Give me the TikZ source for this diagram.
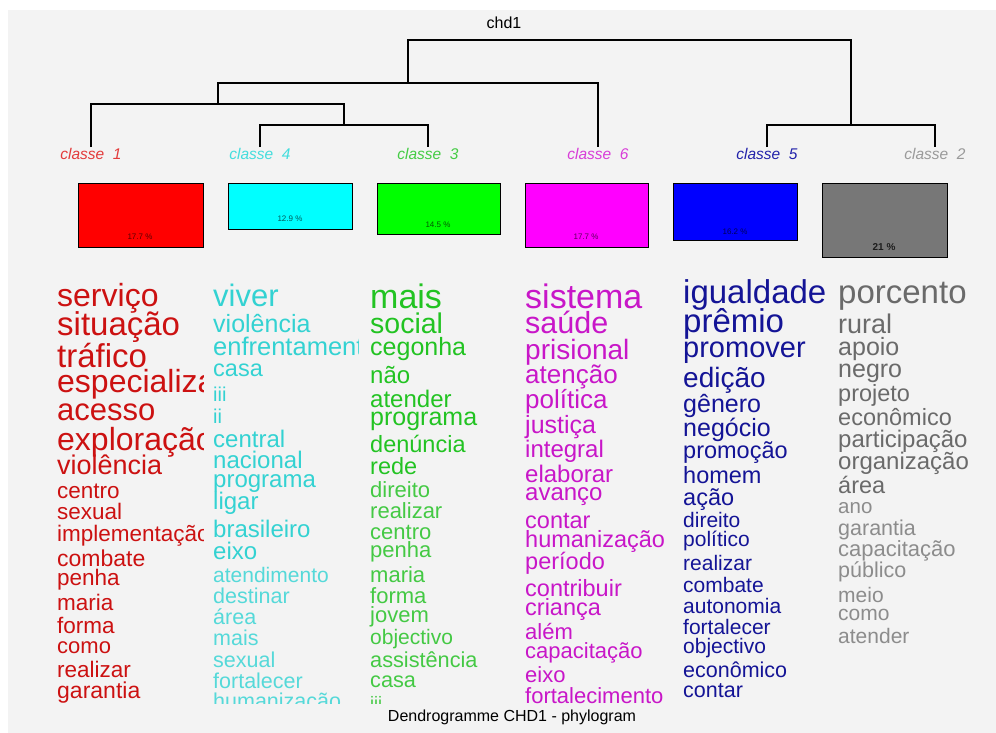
\documentclass[tikz,border=0pt]{standalone}
\usepackage{fontspec}
\setmainfont{Liberation Sans}
\usepackage{tikz}
\newcommand{\fsz}[1]{\fontsize{#1}{#1}\selectfont}
\definecolor{bgc}{HTML}{F3F3F3}
\definecolor{lred}{HTML}{E33B3B}
\definecolor{lcyan}{HTML}{44DDDD}
\definecolor{lgreen}{HTML}{44CC44}
\definecolor{lmag}{HTML}{D83CD8}
\definecolor{lblue}{HTML}{2222AA}
\definecolor{lgray}{HTML}{9A9A9A}
\definecolor{fred}{HTML}{FF0000}
\definecolor{fcyan}{HTML}{00FFFF}
\definecolor{fgreen}{HTML}{00FF00}
\definecolor{fmag}{HTML}{FF00FF}
\definecolor{fblue}{HTML}{0000FF}
\definecolor{fgray}{HTML}{777777}
\definecolor{wred}{HTML}{CC1111}
\definecolor{wcyan}{HTML}{33D2D2}
\definecolor{wcyan2}{HTML}{55D9D9}
\definecolor{wgreen}{HTML}{22C322}
\definecolor{wgreen2}{HTML}{44C944}
\definecolor{wmag}{HTML}{C816C8}
\definecolor{wblue}{HTML}{141496}
\definecolor{wgray}{HTML}{6A6A6A}
\definecolor{wgray2}{HTML}{8C8C8C}

\begin{document}
\begin{tikzpicture}[x=1pt,y=-1pt]%
	\tikzstyle{leaf}=[font=\fsz{15.5}\itshape, inner sep=1pt];
	\tikzstyle{branch}=[draw=black, line width=1.5pt];
	\tikzstyle{classbox}=[rectangle, draw=black, line width=1.4pt, anchor=north west, inner sep=0pt];
	\tikzstyle{pct}=[font=\fsz{8}, text=black, text opacity=0.65, inner sep=0pt];
	\tikzstyle{word}=[anchor=base west, inner sep=0pt];
	\useasboundingbox (0,0) rectangle (996,733);
	\fill[bgc] (8,10) rectangle (996,733);
	% dendrogram
	\node (ttl) at (504,23) [font=\fsz{16}] {chd1};
	\node[text=lred] (cl1) at (91,154) [leaf] {classe\ \ 1};
	\node[text=lcyan] (cl4) at (260,154) [leaf] {classe\ \ 4};
	\node[text=lgreen] (cl3) at (428,154) [leaf] {classe\ \ 3};
	\node[text=lmag] (cl6) at (598,154) [leaf] {classe\ \ 6};
	\node[text=lblue] (cl5) at (767,154) [leaf] {classe\ \ 5};
	\node[text=lgray] (cl2) at (935,154) [leaf] {classe\ \ 2};
	\coordinate (j43) at (344,125);
	\coordinate (j143) at (218,104);
	\coordinate (j6) at (408,83);
	\coordinate (j52) at (851,125);
	\coordinate (top) at (630,40);
	\draw[branch] (cl4.north) |- (j43) -| (cl3.north);
	\draw[branch] (cl1.north) |- (j143) -| (j43);
	\draw[branch] (j143) |- (j6) -| (cl6.north);
	\draw[branch] (cl5.north) |- (j52) -| (cl2.north);
	\draw[branch] (j6) |- (top) -| (j52);
	% class sizes
	\node[fill=fred, minimum width=125pt, minimum height=64pt] (bx1) at (78,183) [classbox] {};
	\node[fill=fcyan, minimum width=124pt, minimum height=46pt] (bx4) at (228,183) [classbox] {};
	\node[fill=fgreen, minimum width=123pt, minimum height=51pt] (bx3) at (377,183) [classbox] {};
	\node[fill=fmag, minimum width=123pt, minimum height=64pt] (bx6) at (525,183) [classbox] {};
	\node[fill=fblue, minimum width=124pt, minimum height=57pt] (bx5) at (673,183) [classbox] {};
	\node[fill=fgray, minimum width=125pt, minimum height=74pt] (bx2) at (822,183) [classbox] {};
	\node (pc1) at (140,237) [pct] {17.7 \%};
	\node (pc4) at (290,219) [pct] {12.9 \%};
	\node (pc3) at (438,225) [pct] {14.5 \%};
	\node (pc6) at (586,237) [pct] {17.7 \%};
	\node (pc5) at (735,232) [pct] {16.2 \%};
	\node (pc2) at (884,247) [pct, font=\fsz{10}\bfseries, text opacity=0.75] {21 \%};
	% classe 1
	\begin{scope}
	\clip (54,275) rectangle (203,703);
	\node[text=wred, font=\fsz{32}] (r1) at (57,306) [word] {serviço};
	\node[text=wred, font=\fsz{33}] (r2) at (57,335) [word] {situação};
	\node[text=wred, font=\fsz{33}] (r3) at (57,367) [word] {tráfico};
	\node[text=wred, font=\fsz{32}] (r4) at (57,392) [word] {especialização};
	\node[text=wred, font=\fsz{31}] (r5) at (57,420) [word] {acesso};
	\node[text=wred, font=\fsz{32}] (r6) at (57,450) [word] {exploração};
	\node[text=wred, font=\fsz{27}] (r7) at (57,474) [word] {violência};
	\node[text=wred, font=\fsz{22.5}] (r8) at (57,498) [word] {centro};
	\node[text=wred, font=\fsz{22.5}] (r9) at (57,519) [word] {sexual};
	\node[text=wred, font=\fsz{22.5}] (r10) at (57,541) [word] {implementação};
	\node[text=wred, font=\fsz{23}] (r11) at (57,566) [word] {combate};
	\node[text=wred, font=\fsz{22.5}] (r12) at (57,585) [word] {penha};
	\node[text=wred, font=\fsz{22.5}] (r13) at (57,610) [word] {maria};
	\node[text=wred, font=\fsz{22.5}] (r14) at (57,633) [word] {forma};
	\node[text=wred, font=\fsz{22}] (r15) at (57,653) [word] {como};
	\node[text=wred, font=\fsz{22.5}] (r16) at (57,677) [word] {realizar};
	\node[text=wred, font=\fsz{23}] (r17) at (57,698) [word] {garantia};
	\end{scope}
	% classe 4
	\begin{scope}
	\clip (210,275) rectangle (358,703);
	\node[text=wcyan, font=\fsz{31}] (c1) at (213,306) [word] {viver};
	\node[text=wcyan, font=\fsz{25}] (c2) at (213,332) [word] {violência};
	\node[text=wcyan, font=\fsz{25.5}] (c3) at (213,355) [word] {enfrentamento};
	\node[text=wcyan, font=\fsz{23.5}] (c4) at (213,376) [word] {casa};
	\node[text=wcyan, font=\fsz{20}] (c5) at (213,401) [word] {iii};
	\node[text=wcyan, font=\fsz{20}] (c6) at (213,423) [word] {ii};
	\node[text=wcyan, font=\fsz{24}] (c7) at (213,447) [word] {central};
	\node[text=wcyan, font=\fsz{24}] (c8) at (213,468) [word] {nacional};
	\node[text=wcyan, font=\fsz{24}] (c9) at (213,487) [word] {programa};
	\node[text=wcyan, font=\fsz{24}] (c10) at (213,509) [word] {ligar};
	\node[text=wcyan, font=\fsz{24}] (c11) at (213,537) [word] {brasileiro};
	\node[text=wcyan, font=\fsz{24}] (c12) at (213,559) [word] {eixo};
	\node[text=wcyan2, font=\fsz{21}] (c13) at (213,582) [word] {atendimento};
	\node[text=wcyan2, font=\fsz{21.5}] (c14) at (213,603) [word] {destinar};
	\node[text=wcyan2, font=\fsz{21.5}] (c15) at (213,624) [word] {área};
	\node[text=wcyan2, font=\fsz{21.5}] (c16) at (213,645) [word] {mais};
	\node[text=wcyan2, font=\fsz{21.5}] (c17) at (213,667) [word] {sexual};
	\node[text=wcyan2, font=\fsz{21.5}] (c18) at (213,688) [word] {fortalecer};
	\node[text=wcyan2, font=\fsz{21.5}] (c19) at (213,708) [word] {humanização};
	\end{scope}
	% classe 3
	\begin{scope}
	\clip (367,275) rectangle (516,703);
	\node[text=wgreen, font=\fsz{34}] (g1) at (370,308) [word] {mais};
	\node[text=wgreen, font=\fsz{28.5}] (g2) at (370,333) [word] {social};
	\node[text=wgreen, font=\fsz{25}] (g3) at (370,355) [word] {cegonha};
	\node[text=wgreen, font=\fsz{24}] (g4) at (370,383) [word] {não};
	\node[text=wgreen, font=\fsz{24}] (g5) at (370,407) [word] {atender};
	\node[text=wgreen, font=\fsz{25}] (g6) at (370,425) [word] {programa};
	\node[text=wgreen, font=\fsz{23.5}] (g7) at (370,452) [word] {denúncia};
	\node[text=wgreen, font=\fsz{23.5}] (g8) at (370,474) [word] {rede};
	\node[text=wgreen2, font=\fsz{22}] (g9) at (370,497) [word] {direito};
	\node[text=wgreen2, font=\fsz{22}] (g10) at (370,518) [word] {realizar};
	\node[text=wgreen2, font=\fsz{22}] (g11) at (370,539) [word] {centro};
	\node[text=wgreen2, font=\fsz{22}] (g12) at (370,557) [word] {penha};
	\node[text=wgreen2, font=\fsz{22}] (g13) at (370,582) [word] {maria};
	\node[text=wgreen2, font=\fsz{22}] (g14) at (370,603) [word] {forma};
	\node[text=wgreen2, font=\fsz{22}] (g15) at (370,622) [word] {jovem};
	\node[text=wgreen2, font=\fsz{21}] (g16) at (370,644) [word] {objectivo};
	\node[text=wgreen2, font=\fsz{21.7}] (g17) at (370,667) [word] {assistência};
	\node[text=wgreen2, font=\fsz{21.7}] (g18) at (370,687) [word] {casa};
	\node[text=wgreen2, font=\fsz{18}] (g19) at (370,709) [word] {iii};
	\end{scope}
	% classe 6
	\begin{scope}
	\clip (522,275) rectangle (671,703);
	\node[text=wmag, font=\fsz{34}] (m1) at (525,308) [word] {sistema};
	\node[text=wmag, font=\fsz{30.5}] (m2) at (525,333) [word] {saúde};
	\node[text=wmag, font=\fsz{28}] (m3) at (525,359) [word] {prisional};
	\node[text=wmag, font=\fsz{26}] (m4) at (525,383) [word] {atenção};
	\node[text=wmag, font=\fsz{26}] (m5) at (525,408) [word] {política};
	\node[text=wmag, font=\fsz{25}] (m6) at (525,433) [word] {justiça};
	\node[text=wmag, font=\fsz{24}] (m7) at (525,457) [word] {integral};
	\node[text=wmag, font=\fsz{24}] (m8) at (525,482) [word] {elaborar};
	\node[text=wmag, font=\fsz{24}] (m9) at (525,500) [word] {avanço};
	\node[text=wmag, font=\fsz{23.5}] (m10) at (525,528) [word] {contar};
	\node[text=wmag, font=\fsz{23.5}] (m11) at (525,547) [word] {humanização};
	\node[text=wmag, font=\fsz{23.5}] (m12) at (525,569) [word] {período};
	\node[text=wmag, font=\fsz{23.5}] (m13) at (525,596) [word] {contribuir};
	\node[text=wmag, font=\fsz{23.5}] (m14) at (525,615) [word] {criança};
	\node[text=wmag, font=\fsz{22}] (m15) at (525,639) [word] {além};
	\node[text=wmag, font=\fsz{22}] (m16) at (525,658) [word] {capacitação};
	\node[text=wmag, font=\fsz{22}] (m17) at (525,682) [word] {eixo};
	\node[text=wmag, font=\fsz{22}] (m18) at (525,703) [word] {fortalecimento};
	\end{scope}
	% classe 5
	\begin{scope}
	\clip (680,275) rectangle (829,703);
	\node[text=wblue, font=\fsz{33}] (b1) at (683,303) [word] {igualdade};
	\node[text=wblue, font=\fsz{33}] (b2) at (683,332) [word] {prêmio};
	\node[text=wblue, font=\fsz{29}] (b3) at (683,357) [word] {promover};
	\node[text=wblue, font=\fsz{28}] (b4) at (683,387) [word] {edição};
	\node[text=wblue, font=\fsz{25}] (b5) at (683,412) [word] {gênero};
	\node[text=wblue, font=\fsz{25}] (b6) at (683,436) [word] {negócio};
	\node[text=wblue, font=\fsz{23.5}] (b7) at (683,458) [word] {promoção};
	\node[text=wblue, font=\fsz{23.5}] (b8) at (683,483) [word] {homem};
	\node[text=wblue, font=\fsz{23.5}] (b9) at (683,505) [word] {ação};
	\node[text=wblue, font=\fsz{21}] (b10) at (683,527) [word] {direito};
	\node[text=wblue, font=\fsz{21}] (b11) at (683,546) [word] {político};
	\node[text=wblue, font=\fsz{21}] (b12) at (683,570) [word] {realizar};
	\node[text=wblue, font=\fsz{21}] (b13) at (683,592) [word] {combate};
	\node[text=wblue, font=\fsz{21}] (b14) at (683,613) [word] {autonomia};
	\node[text=wblue, font=\fsz{21}] (b15) at (683,634) [word] {fortalecer};
	\node[text=wblue, font=\fsz{21}] (b16) at (683,653) [word] {objectivo};
	\node[text=wblue, font=\fsz{21.5}] (b17) at (683,677) [word] {econômico};
	\node[text=wblue, font=\fsz{21.5}] (b18) at (683,697) [word] {contar};
	\end{scope}
	% classe 2
	\begin{scope}
	\clip (835,275) rectangle (990,703);
	\node[text=wgray, font=\fsz{33}] (y1) at (838,303) [word] {porcento};
	\node[text=wgray, font=\fsz{27}] (y2) at (838,333) [word] {rural};
	\node[text=wgray, font=\fsz{25}] (y3) at (838,355) [word] {apoio};
	\node[text=wgray, font=\fsz{25}] (y4) at (838,377) [word] {negro};
	\node[text=wgray, font=\fsz{23.5}] (y5) at (838,401) [word] {projeto};
	\node[text=wgray, font=\fsz{23.5}] (y6) at (838,425) [word] {econômico};
	\node[text=wgray, font=\fsz{24}] (y7) at (838,447) [word] {participação};
	\node[text=wgray, font=\fsz{24}] (y8) at (838,469) [word] {organização};
	\node[text=wgray, font=\fsz{23.5}] (y9) at (838,493) [word] {área};
	\node[text=wgray2, font=\fsz{20.5}] (y10) at (838,513) [word] {ano};
	\node[text=wgray2, font=\fsz{21.5}] (y11) at (838,535) [word] {garantia};
	\node[text=wgray2, font=\fsz{22}] (y12) at (838,556) [word] {capacitação};
	\node[text=wgray2, font=\fsz{21.5}] (y13) at (838,577) [word] {público};
	\node[text=wgray2, font=\fsz{21}] (y14) at (838,602) [word] {meio};
	\node[text=wgray2, font=\fsz{21}] (y15) at (838,620) [word] {como};
	\node[text=wgray2, font=\fsz{21}] (y16) at (838,643) [word] {atender};
	\end{scope}
	\node (cap) at (512,721) [anchor=base, font=\fsz{16}] {Dendrogramme CHD1 - phylogram};
	\end{tikzpicture}
\end{document}
